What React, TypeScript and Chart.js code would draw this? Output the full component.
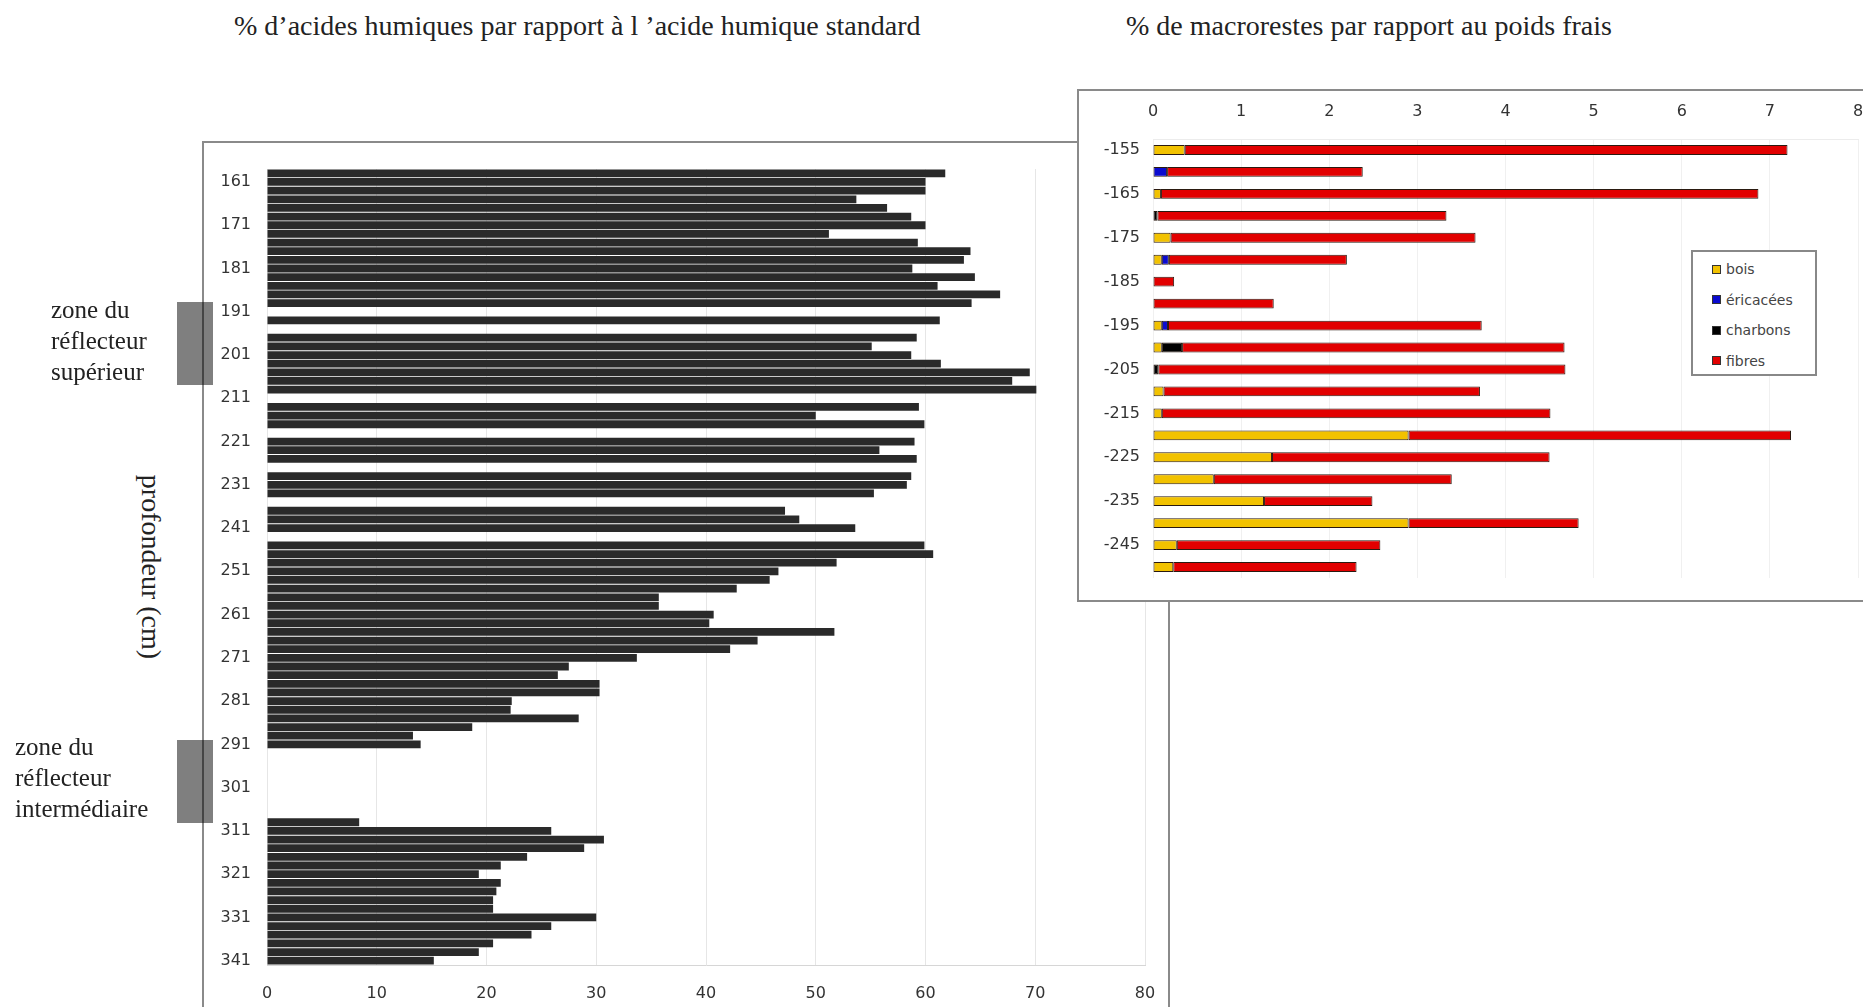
import React, { useEffect, useRef } from "react";
import { Chart, registerables } from "chart.js";

Chart.register(...registerables);

// ---------- Left chart: humic acids (% of standard) by depth (cm) ----------
const humicDepths = [
  159, 161, 163, 165, 167, 169, 171, 173, 175, 177, 179, 181, 183, 185, 187, 189,
  191, 193, 195, 197, 199, 201, 203, 205, 207, 209, 211, 213, 215, 217, 219, 221,
  223, 225, 227, 229, 231, 233, 235, 237, 239, 241, 243, 245, 247, 249, 251, 253,
  255, 257, 259, 261, 263, 265, 267, 269, 271, 273, 275, 277, 279, 281, 283, 285,
  287, 289, 291, 293, 295, 297, 299, 301, 303, 305, 307, 309, 311, 313, 315, 317,
  319, 321, 323, 325, 327, 329, 331, 333, 335, 337, 339, 341,
];
const humicValues: (number | null)[] = [
  61.8, 60.0, 60.0, 53.7, 56.5, 58.7, 60.0, 51.2, 59.3, 64.1, 63.5, 58.8, 64.5, 61.1, 66.8, 64.2,
  null, 61.3, null, 59.2, 55.1, 58.7, 61.4, 69.5, 67.9, 70.1, null, 59.4, 50.0, 59.9, null, 59.0,
  55.8, 59.2, null, 58.7, 58.3, 55.3, null, 47.2, 48.5, 53.6, null, 59.9, 60.7, 51.9, 46.6, 45.8,
  42.8, 35.7, 35.7, 40.7, 40.3, 51.7, 44.7, 42.2, 33.7, 27.5, 26.5, 30.3, 30.3, 22.3, 22.2, 28.4,
  18.7, 13.3, 14.0, null, null, null, null, null, null, null, null, 8.4, 25.9, 30.7, 28.9, 23.7,
  21.3, 19.3, 21.3, 20.9, 20.6, 20.6, 30.0, 25.9, 24.1, 20.6, 19.3, 15.2,
];
const humicLabelDepths = [161, 171, 181, 191, 201, 211, 221, 231, 241, 251, 261, 271, 281, 291, 301, 311, 321, 331, 341];
const humicMin = 0;
const humicMax = 80;
const humicStep = 10;

// ---------- Right chart: macro-remains (% fresh weight) by depth ----------
const macroDepths = [
  -155, -160, -165, -170, -175, -180, -185, -190, -195, -200,
  -205, -210, -215, -220, -225, -230, -235, -240, -245, -250,
];
const macroLabelDepths = [-155, -165, -175, -185, -195, -205, -215, -225, -235, -245];
const bois = [0.36, 0, 0.09, 0, 0.2, 0.1, 0, 0, 0.1, 0.1, 0, 0.12, 0.1, 2.9, 1.35, 0.69, 1.26, 2.9, 0.27, 0.23];
const ericacees = [0, 0.16, 0, 0, 0, 0.08, 0, 0, 0.07, 0, 0, 0, 0, 0, 0, 0, 0, 0, 0, 0];
const charbons = [0, 0, 0, 0.05, 0, 0, 0, 0, 0, 0.23, 0.06, 0, 0, 0, 0, 0, 0, 0, 0, 0];
const fibres = [6.84, 2.22, 6.78, 3.28, 3.46, 2.02, 0.24, 1.37, 3.56, 4.34, 4.62, 3.59, 4.41, 4.34, 3.15, 2.7, 1.23, 1.93, 2.31, 2.08];
const macroSeriesNames = ["bois", "éricacées", "charbons", "fibres"];
const macroSeriesColors = ["#f2c200", "#0a0ad0", "#000000", "#e20000"];
const macroMin = 0;
const macroMax = 8;

const tickFont = { family: "'DejaVu Sans', sans-serif", size: 16 };
const serif = "'Liberation Serif', 'Times New Roman', serif";

const zeroPad = (s: any) => {
  s.paddingLeft = 0;
  s.paddingRight = 0;
  s.paddingTop = 0;
  s.paddingBottom = 0;
};

function HumicChart() {
  const ref = useRef<HTMLCanvasElement | null>(null);
  useEffect(() => {
    if (!ref.current) return;
    const chart = new Chart(ref.current, {
      type: "bar",
      data: {
        labels: humicDepths.map(String),
        datasets: [
          {
            data: humicValues,
            backgroundColor: "#2a2a2a",
            borderWidth: 0,
            barPercentage: 0.9,
            categoryPercentage: 1,
          },
        ],
      },
      options: {
        indexAxis: "y",
        responsive: false,
        maintainAspectRatio: false,
        animation: false,
        devicePixelRatio: 1,
        layout: { padding: { left: 0, right: 24, top: 27, bottom: 0 } },
        plugins: { legend: { display: false }, tooltip: { enabled: false } },
        scales: {
          x: {
            min: humicMin,
            max: humicMax,
            ticks: { stepSize: humicStep, padding: 19, font: tickFont, color: "#333" },
            grid: { color: "#e6e6e6", drawTicks: false },
            border: { color: "#d6d6d6" },
            afterFit: (s: any) => {
              s.height = 42;
              zeroPad(s);
            },
          },
          y: {
            ticks: {
              autoSkip: false,
              padding: 16,
              font: tickFont,
              color: "#333",
              callback: (_v: any, i: number) =>
                humicLabelDepths.includes(humicDepths[i]) ? String(humicDepths[i]) : "",
            },
            grid: { display: false, drawTicks: false },
            border: { display: false },
            afterFit: (s: any) => {
              s.width = 64;
              zeroPad(s);
            },
          },
        },
      } as any,
    });
    return () => chart.destroy();
  }, []);
  return (
    <canvas
      ref={ref}
      width={966}
      height={865}
      style={{ position: "absolute", left: 203, top: 142, width: 966, height: 865 }}
    />
  );
}

function MacroChart() {
  const ref = useRef<HTMLCanvasElement | null>(null);
  useEffect(() => {
    if (!ref.current) return;
    const series = [bois, ericacees, charbons, fibres];
    const chart = new Chart(ref.current, {
      type: "bar",
      data: {
        labels: macroDepths.map(String),
        datasets: series.map((d, k) => ({
          label: macroSeriesNames[k],
          data: d,
          backgroundColor: macroSeriesColors[k],
          borderColor: "#2a1a10",
          borderWidth: 1,
          borderSkipped: false,
          barPercentage: 0.45,
          categoryPercentage: 1,
        })),
      },
      options: {
        indexAxis: "y",
        responsive: false,
        maintainAspectRatio: false,
        animation: false,
        devicePixelRatio: 1,
        layout: { padding: { left: 0, right: 5, top: 0, bottom: 23 } },
        plugins: { legend: { display: false }, tooltip: { enabled: false } },
        scales: {
          x: {
            stacked: true,
            position: "top",
            min: macroMin,
            max: macroMax,
            ticks: { stepSize: 1, padding: 18, font: tickFont, color: "#333" },
            grid: { color: "#f0f0f0", drawTicks: false },
            border: { color: "#ececec" },
            afterFit: (s: any) => {
              s.height = 49;
              zeroPad(s);
            },
          },
          y: {
            stacked: true,
            ticks: {
              autoSkip: false,
              padding: 13,
              font: tickFont,
              color: "#333",
              callback: (_v: any, i: number) =>
                macroLabelDepths.includes(macroDepths[i]) ? String(macroDepths[i]) : "",
            },
            grid: { display: false, drawTicks: false },
            border: { display: false },
            afterFit: (s: any) => {
              s.width = 75;
              zeroPad(s);
            },
          },
        },
      } as any,
    });
    return () => chart.destroy();
  }, []);
  return (
    <canvas
      ref={ref}
      width={785}
      height={511}
      style={{ position: "absolute", left: 1078, top: 90, width: 785, height: 511 }}
    />
  );
}

export default function App() {
  const sideLabel: React.CSSProperties = {
    position: "absolute",
    fontFamily: serif,
    fontSize: 25,
    lineHeight: "31px",
    color: "#222",
    whiteSpace: "nowrap",
  };
  return (
    <div
      style={{
        position: "absolute",
        left: 0,
        top: 0,
        width: 1863,
        height: 1007,
        overflow: "hidden",
        background: "#fff",
      }}
    >
      {/* titles */}
      <div style={{ position: "absolute", left: 234, top: 9, fontFamily: serif, fontSize: 28, lineHeight: "34px", color: "#222", whiteSpace: "nowrap" }}>
        % d’acides humiques par rapport à l ’acide humique standard
      </div>
      <div style={{ position: "absolute", left: 1126, top: 9, fontFamily: serif, fontSize: 28, lineHeight: "34px", color: "#222", whiteSpace: "nowrap" }}>
        % de macrorestes par rapport au poids frais
      </div>

      {/* left box */}
      <div
        style={{
          position: "absolute",
          left: 202,
          top: 141,
          width: 968,
          height: 900,
          boxSizing: "border-box",
          borderTop: "2px solid #8a8a8a",
          borderLeft: "2px solid #8a8a8a",
          borderRight: "2px solid #8a8a8a",
          background: "#fff",
        }}
      />
      <HumicChart />

      {/* reflector zones */}
      <div style={{ position: "absolute", left: 177, top: 302, width: 36, height: 83, background: "rgba(0,0,0,0.5)" }} />
      <div style={{ position: "absolute", left: 177, top: 740, width: 36, height: 83, background: "rgba(0,0,0,0.5)" }} />
      <div style={{ ...sideLabel, left: 51, top: 294 }}>
        zone du<br />réflecteur<br />supérieur
      </div>
      <div style={{ ...sideLabel, left: 15, top: 731 }}>
        zone du<br />réflecteur<br />intermédiaire
      </div>
      <div
        style={{
          position: "absolute",
          left: 151,
          top: 567,
          transform: "translate(-50%, -50%) rotate(90deg)",
          fontFamily: serif,
          fontSize: 28,
          lineHeight: "32px",
          color: "#222",
          whiteSpace: "nowrap",
        }}
      >
        profondeur (cm)
      </div>

      {/* right box */}
      <div
        style={{
          position: "absolute",
          left: 1077,
          top: 89,
          width: 900,
          height: 513,
          boxSizing: "border-box",
          border: "2px solid #8a8a8a",
          background: "#fff",
        }}
      />
      <MacroChart />

      {/* legend */}
      <div
        style={{
          position: "absolute",
          left: 1691,
          top: 250,
          width: 126,
          height: 126,
          boxSizing: "border-box",
          border: "2px solid #888",
          background: "#fff",
        }}
      >
        {macroSeriesNames.map((n, k) => (
          <div
            key={n}
            style={{
              position: "absolute",
              left: 19,
              top: 6 + k * 30.5,
              height: 22,
              display: "flex",
              alignItems: "center",
              fontFamily: "'DejaVu Sans', sans-serif",
              fontSize: 14,
              color: "#444",
              whiteSpace: "nowrap",
            }}
          >
            <span
              style={{
                display: "inline-block",
                width: 9,
                height: 9,
                boxSizing: "border-box",
                background: macroSeriesColors[k],
                border: "1px solid #333",
                marginRight: 5,
              }}
            />
            {n}
          </div>
        ))}
      </div>
    </div>
  );
}
